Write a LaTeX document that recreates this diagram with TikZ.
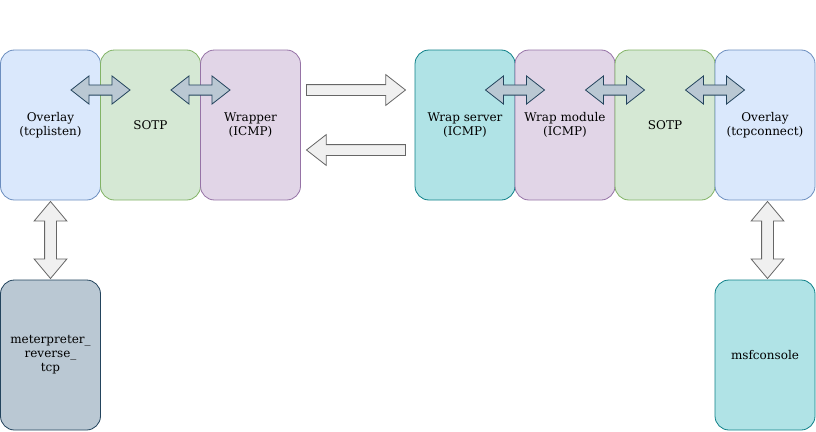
\documentclass[tikz,border=0pt]{standalone}
\usepackage{fontspec}
\setmainfont{DejaVu Serif}
\usetikzlibrary{positioning,shapes.arrows}

\definecolor{ovlfill}{HTML}{DAE8FC}
\definecolor{ovlline}{HTML}{6C8EBF}
\definecolor{sotpfill}{HTML}{D5E8D4}
\definecolor{sotpline}{HTML}{82B366}
\definecolor{wrapfill}{HTML}{E1D5E7}
\definecolor{wrapline}{HTML}{9673A6}
\definecolor{srvfill}{HTML}{B0E3E6}
\definecolor{srvline}{HTML}{0E8088}
\definecolor{mtrfill}{HTML}{BAC8D3}
\definecolor{mtrline}{HTML}{23445D}
\definecolor{fatfill}{HTML}{F0F0F0}
\definecolor{fatline}{HTML}{666666}

\tikzset{
    layer/.style={draw, rounded corners=14pt, minimum width=100pt, minimum height=150pt,
        inner sep=0pt, outer sep=0pt, align=center, line width=0.8pt,
        font=\fontsize{12}{14}\selectfont},
    ovlbox/.style={layer, fill=ovlfill, draw=ovlline},
    sotpbox/.style={layer, fill=sotpfill, draw=sotpline},
    wrapbox/.style={layer, fill=wrapfill, draw=wrapline},
    srvbox/.style={layer, fill=srvfill, draw=srvline},
    mtrbox/.style={layer, fill=mtrfill, draw=mtrline},
    link/.style={double arrow, draw=mtrline, fill=mtrfill, line width=0.8pt,
        inner xsep=0pt, inner ysep=4.7pt, minimum height=59pt,
        double arrow head extend=9pt, double arrow tip angle=76},
    fatarrow/.style={single arrow, draw=fatline, fill=fatfill, line width=0.8pt,
        inner xsep=0pt, inner ysep=5pt, minimum height=99pt, outer sep=0pt,
        single arrow head extend=10pt, single arrow tip angle=76},
    updown/.style={double arrow, draw=fatline, fill=fatfill, line width=0.8pt,
        inner xsep=0pt, inner ysep=5.5pt, minimum height=77pt,
        double arrow head extend=10.5pt, double arrow tip angle=80, rotate=90}
}

\begin{document}
\begin{tikzpicture}[x=1pt, y=-1pt]
\useasboundingbox (0,0) rectangle (816,431);

% client side
\node[ovlbox] (ovl) at (50.5,125) {Overlay\\(tcplisten)};
\node[sotpbox, right=0pt of ovl] (sotpL) {SOTP};
\node[wrapbox, right=0pt of sotpL] (wrapper) {Wrapper\\(ICMP)};
\node[mtrbox] (mtr) at (50.5,355) {meterpreter\_\\reverse\_\\tcp};

% server side
\node[srvbox] (wserv) at (465,125) {Wrap server\\(ICMP)};
\node[wrapbox, right=0pt of wserv] (wmod) {Wrap module\\(ICMP)};
\node[sotpbox, right=0pt of wmod] (sotpR) {SOTP};
\node[ovlbox, right=0pt of sotpR] (ovlR) {Overlay\\(tcpconnect)};
\node[srvbox] (msf) at (765,355) {msfconsole};

% links between layers
\foreach \n in {ovl,sotpL,wserv,wmod,sotpR}
{
    \node[link] (\n-link) at ([yshift=35pt]\n.east) {};
}

% tunnel
\node[fatarrow, anchor=tail] (req) at ([xshift=6pt, yshift=35pt]wrapper.east) {};
\node[fatarrow, shape border rotate=180, anchor=tip] (resp) at ([xshift=6pt, yshift=-25pt]wrapper.east) {};

\path (ovl.south) -- (mtr.north) node[midway, updown] (ovl-mtr) {};
\path (ovlR.south) -- (msf.north) node[midway, xshift=2.5pt, updown] (ovlR-msf) {};
\end{tikzpicture}
\end{document}
